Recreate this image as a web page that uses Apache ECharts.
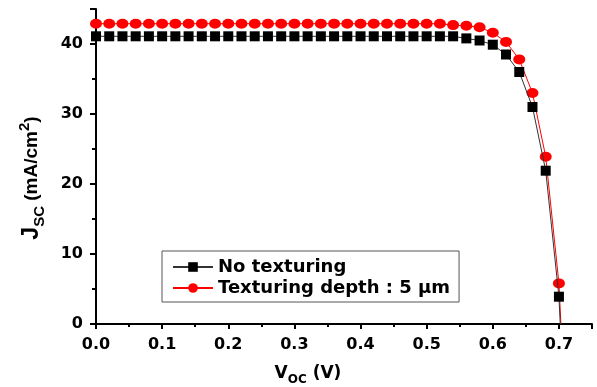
<!DOCTYPE html>
<html>
<head>
<meta charset="utf-8">
<script src="https://cdn.jsdelivr.net/npm/echarts@6/dist/echarts.min.js"></script>
<style>
html,body{margin:0;padding:0;background:#fff;}
#c{width:597px;height:387px;}
</style>
</head>
<body>
<div id="c"></div>
<script>
// Voltage points (V)
var voltage = [0.00,0.02,0.04,0.06,0.08,0.10,0.12,0.14,0.16,0.18,0.20,0.22,0.24,0.26,0.28,0.30,0.32,0.34,0.36,0.38,0.40,0.42,0.44,0.46,0.48,0.50,0.52,0.54,0.56,0.58,0.60,0.62,0.64,0.66,0.68,0.70];
// Jsc (mA/cm2)
var noTexturing = [41.1,41.1,41.1,41.1,41.1,41.1,41.1,41.1,41.1,41.1,41.1,41.1,41.1,41.1,41.1,41.1,41.1,41.1,41.1,41.1,41.1,41.1,41.1,41.1,41.1,41.1,41.1,41.1,40.8,40.5,39.9,38.5,36.0,31.0,21.9,3.9];
var texturing5um = [42.9,42.9,42.9,42.9,42.9,42.9,42.9,42.9,42.9,42.9,42.9,42.9,42.9,42.9,42.9,42.9,42.9,42.9,42.9,42.9,42.9,42.9,42.9,42.9,42.9,42.9,42.9,42.7,42.6,42.4,41.6,40.3,37.8,33.0,23.9,5.8];
// where each curve meets Jsc = 0 (line end, no marker)
var noTexturingEnd = [0.702, 0];
var texturing5umEnd = [0.703, 0];
var seriesNames = ['No texturing', 'Texturing depth : 5 \u03bcm'];
var xTicks = {min: 0, max: 0.75, interval: 0.1};
var yTicks = {min: 0, max: 45, interval: 10};

function pairs(xs, ys, end) {
  var out = xs.map(function (x, i) { return [x, ys[i]]; });
  out.push({value: end, symbol: 'none'});
  return out;
}

var tickFont = {fontFamily: 'DejaVu Sans', fontWeight: 'bold', fontSize: 16, color: '#000'};

var chart = echarts.init(document.getElementById('c'), null, {renderer: 'canvas'});
chart.setOption({
  animation: false,
  backgroundColor: '#fff',
  grid: {left: 96, right: 5, top: 9, bottom: 63, containLabel: false},
  xAxis: {
    type: 'value', min: xTicks.min, max: xTicks.max, interval: xTicks.interval,
    axisLine: {lineStyle: {color: '#000', width: 2}},
    axisTick: {show: true, length: 5, lineStyle: {color: '#000', width: 2}},
    minorTick: {show: true, splitNumber: 2, length: 3, lineStyle: {color: '#000', width: 2}},
    splitLine: {show: false},
    axisLabel: Object.assign({margin: 13, showMaxLabel: false, formatter: function (v) { return v.toFixed(1); }}, tickFont)
  },
  yAxis: {
    type: 'value', min: yTicks.min, max: yTicks.max, interval: yTicks.interval,
    axisLine: {show: true, lineStyle: {color: '#000', width: 2}},
    axisTick: {show: true, length: 6, lineStyle: {color: '#000', width: 2}},
    minorTick: {show: true, splitNumber: 2, length: 4, lineStyle: {color: '#000', width: 2}},
    splitLine: {show: false},
    axisLabel: Object.assign({margin: 13, showMaxLabel: false}, tickFont)
  },
  legend: {
    orient: 'vertical', left: 162, top: 251,
    borderColor: '#555', borderWidth: 1,
    padding: [7, 9, 5, 10], itemGap: 3, itemWidth: 40, itemHeight: 12,
    textStyle: {fontFamily: 'DejaVu Sans', fontWeight: 'bold', fontSize: 18, color: '#000'},
    data: seriesNames
  },
  series: [
    {
      name: seriesNames[0], type: 'line', data: pairs(voltage, noTexturing, noTexturingEnd),
      symbol: 'rect', symbolSize: 10,
      itemStyle: {color: '#000'},
      lineStyle: {color: '#333', width: 1}, z: 3
    },
    {
      name: seriesNames[1], type: 'line', data: pairs(voltage, texturing5um, texturing5umEnd),
      symbol: 'circle', symbolSize: [12, 10],
      itemStyle: {color: '#ff0000'},
      lineStyle: {color: '#ff0000', width: 1}, z: 2
    }
  ],
  graphic: [
    {
      type: 'text', x: 32, y: 178, rotation: Math.PI / 2,
      style: {
        text: '{a|J}{s|SC}{b| (mA/cm}{p|2}{b|)}',
        align: 'center', verticalAlign: 'middle',
        rich: {
          a: {fontFamily: 'Liberation Sans', fontWeight: 'bold', fontSize: 23, lineHeight: 30, color: '#000'},
          b: {fontFamily: 'Liberation Sans', fontWeight: 'bold', fontSize: 19, lineHeight: 30, color: '#000'},
          s: {fontFamily: 'Liberation Sans', fontWeight: 'bold', fontSize: 15, lineHeight: 14, verticalAlign: 'bottom', color: '#000'},
          p: {fontFamily: 'Liberation Sans', fontWeight: 'bold', fontSize: 15, lineHeight: 14, verticalAlign: 'top', color: '#000'}
        }
      }
    },
    {
      type: 'text', x: 308, y: 374,
      style: {
        text: '{a|V}{s|OC}{a| (V)}',
        align: 'center', verticalAlign: 'middle',
        rich: {
          a: {fontFamily: 'DejaVu Sans', fontWeight: 'bold', fontSize: 17, lineHeight: 24, color: '#000'},
          s: {fontFamily: 'DejaVu Sans', fontWeight: 'bold', fontSize: 12, lineHeight: 12, verticalAlign: 'bottom', color: '#000'}
        }
      }
    }
  ]
});
</script>
</body>
</html>
